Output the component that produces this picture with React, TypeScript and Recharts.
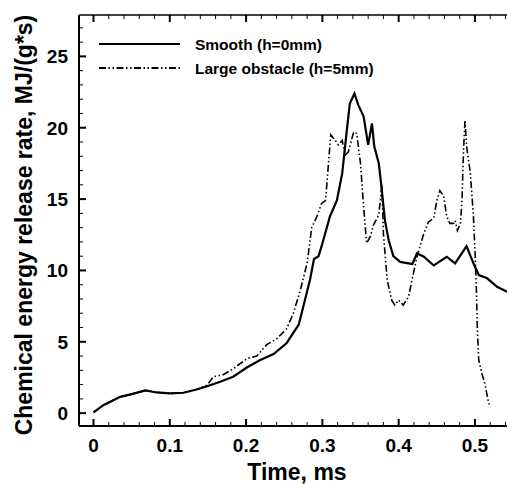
import React from 'react';
import { LineChart, Line, XAxis, YAxis } from 'recharts';

// time (ms) / rate (MJ/(g*s))
const smoothTime = [0, 0.013, 0.035, 0.05, 0.068, 0.083, 0.1, 0.118, 0.135, 0.149, 0.166, 0.183, 0.201, 0.218, 0.236, 0.253, 0.269, 0.277, 0.284, 0.289, 0.295, 0.299, 0.31, 0.319, 0.326, 0.332, 0.336, 0.342, 0.347, 0.354, 0.36, 0.365, 0.368, 0.374, 0.378, 0.382, 0.387, 0.393, 0.402, 0.413, 0.418, 0.424, 0.433, 0.446, 0.463, 0.474, 0.489, 0.498, 0.505, 0.516, 0.529, 0.542];
const smoothRate = [0.05, 0.56, 1.14, 1.33, 1.59, 1.45, 1.38, 1.43, 1.66, 1.89, 2.2, 2.55, 3.2, 3.7, 4.14, 4.9, 6.2, 7.9, 9.4, 10.8, 11.0, 11.7, 13.8, 14.9, 16.8, 19.8, 21.7, 22.4, 21.6, 20.8, 18.8, 20.3, 18.7, 17.5, 15.6, 13.5, 12.1, 11.0, 10.6, 10.5, 10.45, 11.2, 10.96, 10.35, 10.96, 10.5, 11.7, 10.5, 9.68, 9.45, 8.86, 8.5];

const obstacleTime = [0, 0.013, 0.035, 0.05, 0.068, 0.083, 0.1, 0.118, 0.135, 0.149, 0.157, 0.17, 0.183, 0.201, 0.214, 0.227, 0.24, 0.253, 0.262, 0.271, 0.28, 0.286, 0.293, 0.299, 0.304, 0.306, 0.308, 0.311, 0.317, 0.321, 0.326, 0.33, 0.334, 0.341, 0.345, 0.35, 0.354, 0.358, 0.363, 0.367, 0.374, 0.378, 0.38, 0.385, 0.391, 0.395, 0.4, 0.406, 0.413, 0.417, 0.424, 0.433, 0.439, 0.446, 0.45, 0.454, 0.459, 0.463, 0.467, 0.472, 0.474, 0.477, 0.481, 0.483, 0.485, 0.487, 0.489, 0.494, 0.498, 0.5, 0.502, 0.503, 0.505, 0.509, 0.513, 0.518, 0.52];
const obstacleRate = [0.05, 0.56, 1.14, 1.33, 1.59, 1.45, 1.38, 1.43, 1.66, 1.96, 2.55, 2.7, 3.1, 3.83, 4.0, 4.8, 5.2, 5.9, 7.0, 8.6, 10.5, 13.0, 13.8, 14.7, 14.9, 16.1, 17.5, 19.5, 19.1, 18.8, 19.1, 18.1, 18.3, 19.7, 19.6, 17.5, 14.5, 11.9, 12.4, 13.2, 13.9, 16.0, 12.6, 9.3, 7.9, 7.57, 7.92, 7.57, 8.16, 9.2, 10.96, 12.6, 13.4, 13.65, 14.9, 15.6, 15.2, 13.8, 13.3, 13.3, 13.5, 12.8, 13.3, 14.9, 18.4, 20.55, 18.7, 16.8, 13.8, 11.4, 8.5, 6.05, 3.72, 2.78, 2.08, 0.68, 0.56];

const seriesNames = ['Smooth (h=0mm)', 'Large obstacle (h=5mm)'];

const timeTicks = [0, 0.02, 0.04, 0.06, 0.08, 0.1, 0.12, 0.14, 0.16, 0.18, 0.2, 0.22, 0.24, 0.26, 0.28, 0.3, 0.32, 0.34, 0.36, 0.38, 0.4, 0.42, 0.44, 0.46, 0.48, 0.5, 0.52, 0.54];
const timeLabels = [0, 0.1, 0.2, 0.3, 0.4, 0.5];
const rateTicks = [0, 1, 2, 3, 4, 5, 6, 7, 8, 9, 10, 11, 12, 13, 14, 15, 16, 17, 18, 19, 20, 21, 22, 23, 24, 25, 26, 27];
const rateLabels = [0, 5, 10, 15, 20, 25];

const smoothData = smoothTime.map((t, i) => ({ time: t, rate: smoothRate[i] }));
const obstacleData = obstacleTime.map((t, i) => ({ time: t, rate: obstacleRate[i] }));

const FONT = '"Liberation Sans", Arial, sans-serif';
const DASH = '7 2.5 1.5 2.5 1.5 2.5';

const BottomTick = (props: any) => {
  const { x, y, payload } = props;
  const major = timeLabels.includes(payload.value);
  return (
    <g>
      <line x1={x} y1={y} x2={x} y2={y - (major ? 7 : 4)} stroke="#000" strokeWidth={major ? 2 : 1} />
      {major && (
        <text x={x} y={y + 26} textAnchor="middle" fontSize={19} fontWeight="bold" fontFamily={FONT} fill="#000">
          {String(payload.value)}
        </text>
      )}
    </g>
  );
};

const TopTick = (props: any) => {
  const { x, y, payload } = props;
  const major = timeLabels.includes(payload.value);
  return <line x1={x} y1={y} x2={x} y2={y + (major ? 7 : 4)} stroke="#000" strokeWidth={major ? 2 : 1} />;
};

const LeftTick = (props: any) => {
  const { x, y, payload } = props;
  const major = rateLabels.includes(payload.value);
  return (
    <g>
      <line x1={x} y1={y} x2={x + (major ? 7 : 4)} y2={y} stroke="#000" strokeWidth={major ? 2 : 1} />
      {major && (
        <text x={x - 11} y={y} dy="0.36em" textAnchor="end" fontSize={19} fontWeight="bold" fontFamily={FONT} fill="#000">
          {String(payload.value)}
        </text>
      )}
    </g>
  );
};

export default function App() {
  return (
    <div style={{ position: 'absolute', left: 0, top: 0, width: 507, height: 484, overflow: 'hidden', background: '#fff' }}>
      <LineChart width={507} height={484} margin={{ top: 0, right: 0, bottom: 0, left: 0 }}>
        <XAxis
          xAxisId="bottom"
          type="number"
          dataKey="time"
          domain={[-0.019, 0.542]}
          allowDataOverflow
          ticks={timeTicks}
          interval={0}
          height={58}
          tickSize={0}
          tickMargin={0}
          tick={<BottomTick />}
          axisLine={{ stroke: '#000', strokeWidth: 2 }}
        />
        <XAxis
          xAxisId="top"
          orientation="top"
          type="number"
          dataKey="time"
          domain={[-0.019, 0.542]}
          allowDataOverflow
          ticks={timeTicks}
          interval={0}
          height={15}
          tickSize={0}
          tickMargin={0}
          tick={<TopTick />}
          axisLine={{ stroke: '#000', strokeWidth: 1.5 }}
        />
        <YAxis
          type="number"
          domain={[-0.9, 27.9]}
          allowDataOverflow
          ticks={rateTicks}
          interval={0}
          width={79}
          tickSize={0}
          tickMargin={0}
          tick={<LeftTick />}
          axisLine={{ stroke: '#000', strokeWidth: 2 }}
        />
        <Line
          xAxisId="bottom"
          data={smoothData}
          dataKey="rate"
          name={seriesNames[0]}
          type="linear"
          stroke="#000"
          strokeWidth={2.2}
          dot={false}
          isAnimationActive={false}
        />
        <Line
          xAxisId="bottom"
          data={obstacleData}
          dataKey="rate"
          name={seriesNames[1]}
          type="linear"
          stroke="#000"
          strokeWidth={1.6}
          strokeDasharray={DASH}
          dot={false}
          isAnimationActive={false}
        />
      </LineChart>

      {/* titles and legend */}
      <svg width={507} height={484} style={{ position: 'absolute', left: 0, top: 0, pointerEvents: 'none' }}>
        <line x1={99} y1={44} x2={180} y2={44} stroke="#000" strokeWidth={2} />
        <text x={195} y={44} dy="0.36em" fontSize={15.5} fontWeight="bold" fontFamily={FONT}>{seriesNames[0]}</text>
        <line x1={99} y1={68} x2={180} y2={68} stroke="#000" strokeWidth={2} strokeDasharray={DASH} />
        <text x={195} y={68} dy="0.36em" fontSize={15.5} fontWeight="bold" fontFamily={FONT}>{seriesNames[1]}</text>
        <text x={297} y={480} textAnchor="middle" fontSize={23} fontWeight="bold" fontFamily={FONT}>Time, ms</text>
        <text x={32} y={225} textAnchor="middle" fontSize={23} fontWeight="bold" fontFamily={FONT} transform="rotate(-90, 32, 225)">
          Chemical energy release rate, MJ/(g*s)
        </text>
      </svg>
    </div>
  );
}
